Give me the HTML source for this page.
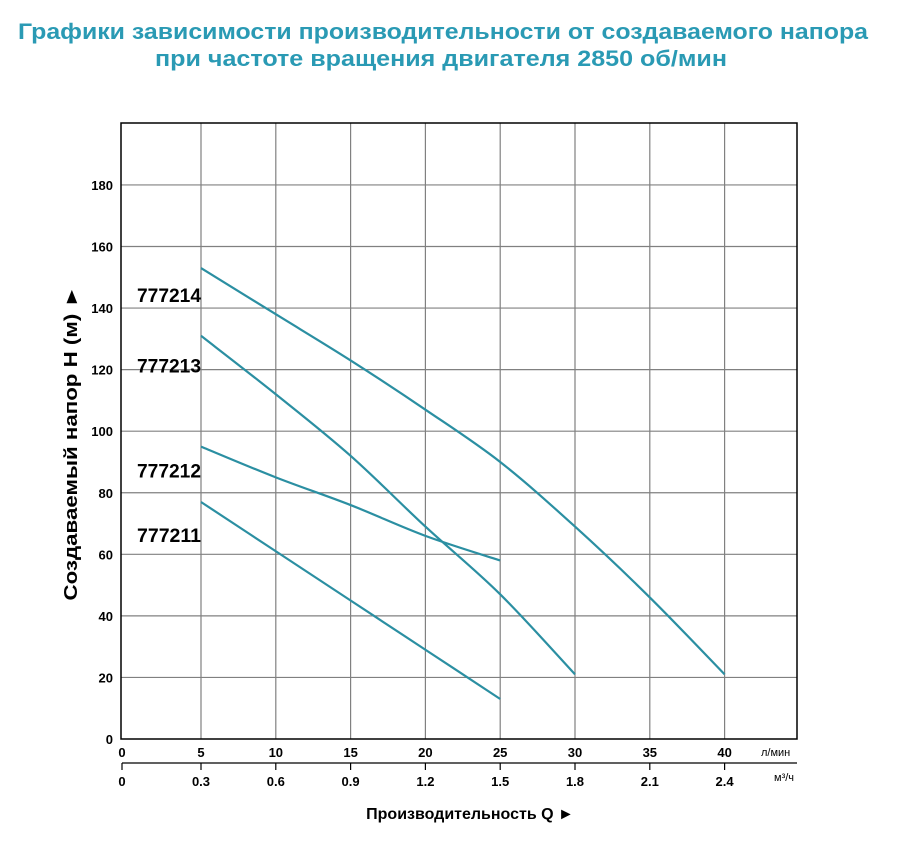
<!DOCTYPE html>
<html><head><meta charset="utf-8"><style>
body{margin:0;background:#fff;width:905px;height:842px;overflow:hidden}
svg text{font-family:"Liberation Sans",sans-serif}
</style></head><body>
<svg width="905" height="842">
<text x="443" y="39" text-anchor="middle" font-size="22" font-weight="bold" fill="#2a9ab4" textLength="850" lengthAdjust="spacingAndGlyphs">Графики зависимости производительности от создаваемого напора</text>
<text x="441" y="66" text-anchor="middle" font-size="22" font-weight="bold" fill="#2a9ab4" textLength="572" lengthAdjust="spacingAndGlyphs">при частоте вращения двигателя 2850 об/мин</text>
<g id="grid"></g>
<rect x="121" y="123" width="676" height="616" fill="none" stroke="#000" stroke-width="1.5"/>
<g id="curves"></g>
<g id="labels"></g>
<line x1="122" y1="763" x2="797" y2="763" stroke="#000" stroke-width="1.2"/>
<text x="761" y="756" font-size="11">л/мин</text>
<text x="774" y="781" font-size="11">м³/ч</text>
<text x="470" y="819" text-anchor="middle" font-size="16" font-weight="bold">Производительность Q ►</text>
<text transform="translate(77,443) rotate(-90)" text-anchor="middle" font-size="18" font-weight="bold" textLength="315" lengthAdjust="spacingAndGlyphs">Создаваемый напор H (м) ►</text>
</svg>
<script>
const xTicks=[0,5,10,15,20,25,30,35,40];
const x2Labels=["0","0.3","0.6","0.9","1.2","1.5","1.8","2.1","2.4"];
const yTicks=[0,20,40,60,80,100,120,140,160,180];
const seriesNames=["777214","777213","777212","777211"];
const q214=[5,10,15,20,25,30,35,40];
const h214=[153,138,123,107,90,69,46,21];
const q213=[5,10,15,20,25,30];
const h213=[131,112,92,69,47,21];
const q212=[5,10,15,20,25];
const h212=[95,85,76,66,58];
const q211=[5,10,15,20,25];
const h211=[77,61,45,29,13];
const labelH=[143,120,86,65];
const NS="http://www.w3.org/2000/svg";
function X(q){return q<=0?122:201+(q-5)*14.96;}
function Y(h){return 739-h*3.078;}
function mk(t,a,p){const e=document.createElementNS(NS,t);for(const k in a)e.setAttribute(k,a[k]);p.appendChild(e);return e;}
const grid=document.getElementById('grid'),lab=document.getElementById('labels'),cur=document.getElementById('curves');
xTicks.forEach((q,i)=>{
 if(q>0){const l=mk('line',{x1:X(q),x2:X(q),y1:123,y2:739,stroke:'#808080','stroke-width':1.2},grid);
 }
 const t=mk('text',{x:X(q),y:757,'text-anchor':'middle','font-size':13,'font-weight':'bold'},lab);t.textContent=q;
 
 const tk=mk('line',{x1:X(q),x2:X(q),y1:763,y2:770,stroke:'#000','stroke-width':1.2},lab);
 
 const t2=mk('text',{x:X(q),y:786,'text-anchor':'middle','font-size':13,'font-weight':'bold'},lab);t2.textContent=x2Labels[i];
 
});
yTicks.forEach(h=>{
 if(h>0){const l=mk('line',{x1:121,x2:797,y1:Y(h),y2:Y(h),stroke:'#808080','stroke-width':1.2},grid);
 }
 const t=mk('text',{x:113,y:Y(h)+5,'text-anchor':'end','font-size':13,'font-weight':'bold'},lab);t.textContent=h;
 
});
const S=[[q214,h214],[q213,h213],[q212,h212],[q211,h211]];
S.forEach((s,i)=>{
 let d='M'+X(s[0][0])+','+Y(s[1][0]);
 for(let j=1;j<s[0].length;j++){
  const x0=X(s[0][j-1]),y0=Y(s[1][j-1]),x1=X(s[0][j]),y1=Y(s[1][j]);
  const xp=j>1?X(s[0][j-2]):x0,yp=j>1?Y(s[1][j-2]):y0;
  const xn=j<s[0].length-1?X(s[0][j+1]):x1,yn=j<s[0].length-1?Y(s[1][j+1]):y1;
  d+=' C'+(x0+(x1-xp)/6)+','+(y0+(y1-yp)/6)+' '+(x1-(xn-x0)/6)+','+(y1-(yn-y0)/6)+' '+x1+','+y1;
 }
 const p=mk('path',{d:d,fill:'none',stroke:'#2b8fa2','stroke-width':2.2},cur);
 
 const t=mk('text',{x:137,y:Y(labelH[i])+3,'font-size':19,'font-weight':'bold',textLength:64,lengthAdjust:'spacingAndGlyphs'},lab);t.textContent=seriesNames[i];
 
});
</script>
</body></html>
